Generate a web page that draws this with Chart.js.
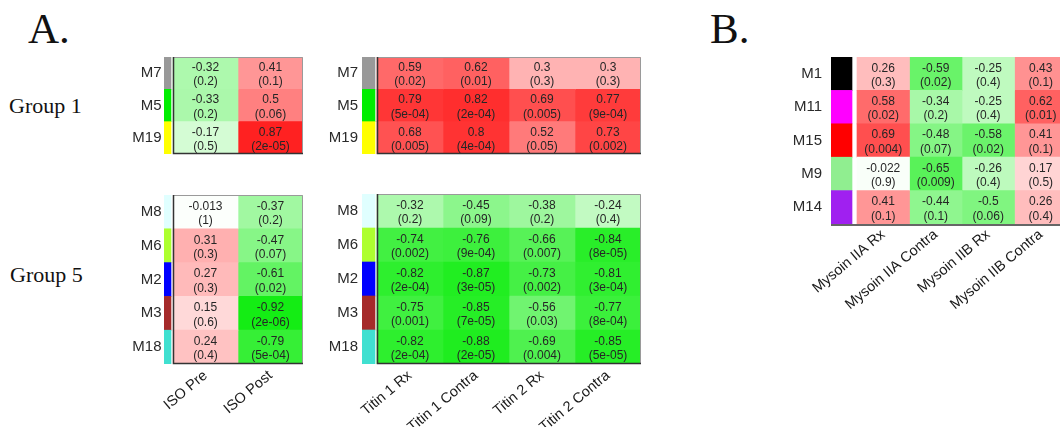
<!DOCTYPE html>
<html>
<head>
<meta charset="utf-8">
<script src="https://cdn.jsdelivr.net/npm/chart.js@4.4.1/dist/chart.umd.min.js"></script>
<style>
  html, body { margin: 0; padding: 0; background: #fff; width: 1060px; height: 427px; overflow: hidden; position: relative; }
  canvas { position: absolute; }
  .lbl { position: absolute; font-family: 'Liberation Serif', 'Times New Roman', serif; color: #111; line-height: 1; white-space: nowrap; }
</style>
</head>
<body>
<div class="lbl" style="left:28px;top:7px;font-size:43px">A.</div>
<div class="lbl" style="left:710px;top:7px;font-size:43px">B.</div>
<div class="lbl" style="left:9px;top:95px;font-size:22px">Group 1</div>
<div class="lbl" style="left:10px;top:264px;font-size:22px">Group 5</div>

<canvas id="g1iso"></canvas>
<canvas id="g1titin"></canvas>
<canvas id="g5iso"></canvas>
<canvas id="g5titin"></canvas>
<canvas id="myosin"></canvas>

<script>
  // ---------- Data ----------
  const group1Rows = ['M7', 'M5', 'M19'];
  const group1Colors = ['#999999', '#00ee00', '#ffff00'];
  const group5Rows = ['M8', 'M6', 'M2', 'M3', 'M18'];
  const group5Colors = ['#e0ffff', '#adff2f', '#0000ff', '#a52a2a', '#40e0d0'];
  const myosinRows = ['M1', 'M11', 'M15', 'M9', 'M14'];
  const myosinColors = ['#000000', '#ff00ff', '#ff0000', '#90ee90', '#a020f0'];

  const isoCols = ['ISO Pre', 'ISO Post'];
  const titinCols = ['Titin 1 Rx', 'Titin 1 Contra', 'Titin 2 Rx', 'Titin 2 Contra'];
  const myosinCols = ['Mysoin IIA Rx', 'Mysoin IIA Contra', 'Mysoin IIB Rx', 'Mysoin IIB Contra'];

  // correlation per [row][column], p-value labels the same way
  const g1IsoR = [[-0.32, 0.41], [-0.33, 0.5], [-0.17, 0.87]];
  const g1IsoP = [['0.2', '0.1'], ['0.2', '0.06'], ['0.5', '2e-05']];
  const g1TitinR = [[0.59, 0.62, 0.3, 0.3], [0.79, 0.82, 0.69, 0.77], [0.68, 0.8, 0.52, 0.73]];
  const g1TitinP = [['0.02', '0.01', '0.3', '0.3'], ['5e-04', '2e-04', '0.005', '9e-04'], ['0.005', '4e-04', '0.05', '0.002']];
  const g5IsoR = [[-0.013, -0.37], [0.31, -0.47], [0.27, -0.61], [0.15, -0.92], [0.24, -0.79]];
  const g5IsoP = [['1', '0.2'], ['0.3', '0.07'], ['0.3', '0.02'], ['0.6', '2e-06'], ['0.4', '5e-04']];
  const g5TitinR = [[-0.32, -0.45, -0.38, -0.24], [-0.74, -0.76, -0.66, -0.84], [-0.82, -0.87, -0.73, -0.81], [-0.75, -0.85, -0.56, -0.77], [-0.82, -0.88, -0.69, -0.85]];
  const g5TitinP = [['0.2', '0.09', '0.2', '0.4'], ['0.002', '9e-04', '0.007', '8e-05'], ['2e-04', '3e-05', '0.002', '3e-04'], ['0.001', '7e-05', '0.03', '8e-04'], ['2e-04', '2e-05', '0.004', '5e-05']];
  const myosinR = [[0.26, -0.59, -0.25, 0.43], [0.58, -0.34, -0.25, 0.62], [0.69, -0.48, -0.58, 0.41], [-0.022, -0.65, -0.26, 0.17], [0.41, -0.44, -0.5, 0.26]];
  const myosinP = [['0.3', '0.02', '0.4', '0.1'], ['0.02', '0.2', '0.4', '0.01'], ['0.004', '0.07', '0.02', '0.1'], ['0.9', '0.009', '0.4', '0.5'], ['0.1', '0.1', '0.06', '0.4']];

  // ---------- Helpers ----------
  function cellColor(v) {
    const t = Math.min(1, Math.abs(v));
    const k = Math.round(255 * (1 - t));
    if (v >= 0) return `rgb(255,${k},${k})`;
    return `rgb(${k},${Math.round(255 - 20 * t)},${k})`;
  }

  function makeHeatmap(id, rows, stripColors, cols, rVals, pVals, geo) {
    const padT = 2;
    const canvas = document.getElementById(id);
    const stripLeft = geo.cellLeft - geo.gap - geo.stripW;
    const canvasLeft = Math.round(stripLeft - geo.axisW);
    const axisW = stripLeft - canvasLeft;
    const canvasTop = Math.round(geo.cellTop - padT);
    const top = geo.cellTop - canvasTop;
    const areaW = geo.stripW + geo.gap + cols.length * geo.cellW;
    const areaH = rows.length * geo.cellH;
    canvas.width = Math.ceil(axisW + areaW + 3);
    canvas.height = Math.ceil(top + areaH + (geo.labelH || 3));
    canvas.style.left = canvasLeft + 'px';
    canvas.style.top = canvasTop + 'px';
    const padR = canvas.width - axisW - areaW;
    const restH = canvas.height - top - areaH;
    const showX = geo.labelH > 0;
    const stripSpan = (geo.stripW + geo.gap) / geo.cellW;

    const bar = { barPercentage: 1, categoryPercentage: 1, grouped: false, borderWidth: 0 };
    const datasets = cols.map((c, ci) => Object.assign({
      label: c,
      data: rows.map(() => [ci, ci + 1]),
      backgroundColor: rVals.map((row) => cellColor(row[ci]))
    }, bar));
    datasets.push(Object.assign({
      label: 'module',
      data: rows.map(() => [-stripSpan, -stripSpan + geo.stripW / geo.cellW]),
      backgroundColor: stripColors
    }, bar));

    const cellText = {
      id: 'cellText',
      afterDatasetsDraw(chart) {
        const { ctx } = chart;
        ctx.save();
        ctx.fillStyle = '#262626';
        ctx.textAlign = 'center';
        ctx.textBaseline = 'middle';
        ctx.font = '12px "Liberation Sans", Arial, sans-serif';
        cols.forEach((c, ci) => {
          chart.getDatasetMeta(ci).data.forEach((el, ri) => {
            const p = el.getCenterPoint();
            ctx.fillText(String(rVals[ri][ci]), p.x, p.y - 5.5);
            ctx.fillText('(' + pVals[ri][ci] + ')', p.x, p.y + 9);
          });
        });
        ctx.restore();
      }
    };

    const frame = {
      id: 'frame',
      afterDatasetsDraw(chart) {
        const { ctx, chartArea: a, scales: { x } } = chart;
        const x0 = x.getPixelForValue(0);
        const x1 = x.getPixelForValue(cols.length);
        ctx.save();
        if (geo.frame === 'bottom') {
          ctx.strokeStyle = '#666';
          ctx.lineWidth = 2;
          ctx.beginPath();
          ctx.moveTo(a.left, a.bottom + 1);
          ctx.lineTo(x1, a.bottom + 1);
          ctx.stroke();
        } else {
          ctx.strokeStyle = '#9a9a9a';
          ctx.lineWidth = 1;
          ctx.beginPath();
          ctx.moveTo(x0, a.top + 0.5);
          ctx.lineTo(x1 - 0.5, a.top + 0.5);
          ctx.lineTo(x1 - 0.5, a.bottom);
          ctx.stroke();
          ctx.strokeStyle = '#333';
          ctx.lineWidth = 1.5;
          ctx.beginPath();
          ctx.moveTo(x0 + 0.5, a.top);
          ctx.lineTo(x0 + 0.5, a.bottom - 0.5);
          ctx.lineTo(x1, a.bottom - 0.5);
          ctx.stroke();
        }
        ctx.restore();
      }
    };

    return new Chart(canvas, {
      type: 'bar',
      data: { labels: rows, datasets },
      options: {
        indexAxis: 'y',
        responsive: false,
        animation: false,
        devicePixelRatio: 1,
        layout: { padding: { top: top, right: padR, left: 0, bottom: showX ? 0 : restH } },
        plugins: { legend: { display: false }, tooltip: { enabled: false } },
        scales: {
          y: {
            type: 'category',
            grid: { display: false, drawTicks: false },
            border: { display: false },
            ticks: { padding: geo.tickPad, color: '#2a2a2a', font: { family: 'Liberation Sans', size: 15 } },
            afterFit(s) {
              s.width = axisW;
              s.paddingTop = 0;
              s.paddingBottom = 0;
            }
          },
          x: {
            type: 'linear',
            display: showX,
            bounds: 'data',
            min: -stripSpan,
            max: cols.length,
            grid: { display: false, drawTicks: false },
            border: { display: false },
            afterBuildTicks(s) { s.ticks = cols.map((c, i) => ({ value: i + 0.5 })); },
            ticks: {
              autoSkip: false,
              minRotation: 40,
              maxRotation: 40,
              padding: geo.xPad,
              color: '#1a1a1a',
              font: { family: 'Liberation Sans', size: 14.5 },
              callback: (v, i) => cols[i]
            },
            afterFit(s) {
              s.height = restH;
              s.paddingLeft = 0;
              s.paddingRight = 0;
            }
          }
        }
      },
      plugins: [cellText, frame]
    });
  }

  // ---------- Charts ----------
  makeHeatmap('g1iso', group1Rows, group1Colors, isoCols, g1IsoR, g1IsoP,
    { cellLeft: 173, cellTop: 57, cellW: 65, cellH: 33.5, stripW: 7, gap: 2, axisW: 40, tickPad: 2.5 });
  makeHeatmap('g1titin', group1Rows, group1Colors, titinCols, g1TitinR, g1TitinP,
    { cellLeft: 377, cellTop: 57, cellW: 66, cellH: 33.5, stripW: 13, gap: 2, axisW: 40, tickPad: 4 });
  makeHeatmap('g5iso', group5Rows, group5Colors, isoCols, g5IsoR, g5IsoP,
    { cellLeft: 173, cellTop: 195, cellW: 65, cellH: 33.8, stripW: 7, gap: 2, axisW: 40, tickPad: 2.5, labelH: 64, xPad: 3 });
  makeHeatmap('g5titin', group5Rows, group5Colors, titinCols, g5TitinR, g5TitinP,
    { cellLeft: 377, cellTop: 194, cellW: 66, cellH: 34, stripW: 13, gap: 2, axisW: 40, tickPad: 4, labelH: 64, xPad: 3 });
  makeHeatmap('myosin', myosinRows, myosinColors, myosinCols, myosinR, myosinP,
    { cellLeft: 857, cellTop: 57, cellW: 52.5, cellH: 33.4, stripW: 21, gap: 5, axisW: 45, tickPad: 9, labelH: 100, xPad: 2, frame: 'bottom' });
</script>
</body>
</html>
